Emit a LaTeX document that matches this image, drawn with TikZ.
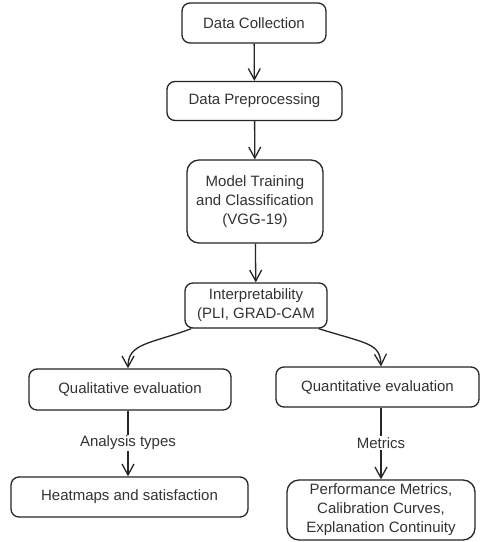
\documentclass[tikz,border=0pt]{standalone}
\usepackage{fontspec}
\setmainfont{Liberation Sans}
\usetikzlibrary{arrows.meta}
\begin{document}
\begin{tikzpicture}[x=1bp,y=-1bp,
  box/.style={draw=black!85, line width=1.3bp, rounded corners=8bp, align=center,
    inner sep=0pt, font=\fontsize{15bp}{19bp}\selectfont, text=black!80},
  lbl/.style={inner sep=1bp, font=\fontsize{15bp}{19bp}\selectfont, text=black!80},
  link/.style={draw=black!85, line width=1.3bp},
  flow/.style={link, -{Straight Barb[length=11bp,width=12bp,line width=1.3bp]}}]
\useasboundingbox[fill=white] (0,0) rectangle (481,542);

\node[box, minimum width=144bp, minimum height=40bp] (dc) at (254,23) {Data Collection};
\node[box, minimum width=175bp, minimum height=39bp] (dp) at (254.5,101) {Data Preprocessing};
\node[box, minimum width=136bp, minimum height=83bp, rounded corners=12bp] (mt) at (255,201.5)
  {Model Training\\and Classification\\(VGG-19)};
\node[box, minimum width=142bp, minimum height=45bp] (ip) at (256,305.5)
  {Interpretability\\(PLI, GRAD-CAM};
\node[box, minimum width=202bp, minimum height=41bp] (ql) at (130,389.5) {Qualitative evaluation};
\node[box, minimum width=203bp, minimum height=40bp] (qn) at (377.5,387) {Quantitative evaluation};
\node[lbl] (at) at (128,443) {Analysis types};
\node[lbl] (mx) at (381,443) {Metrics};
\node[box, minimum width=237bp, minimum height=40bp] (hm) at (129.5,497) {Heatmaps and satisfaction};
\node[box, minimum width=188bp, minimum height=60bp, rounded corners=12bp] (pm) at (381,510)
  {Performance Metrics,\\Calibration Curves,\\Explanation Continuity};

\draw[flow] (dc) -- (dp);
\draw[flow] (dp) -- (mt);
\draw[flow] (mt) -- (ip);
\draw[flow] ([xshift=7bp]ip.south west) .. controls (150,344) and (128,343) .. (ql.north -| at);
\draw[flow] ([xshift=-9bp]ip.south east) .. controls (368,344) and (380,343) .. (qn.north -| mx);
\draw[link] (ql.south -| at) -- (at.north);
\draw[flow] (at.south) -- (hm.north -| at);
\draw[link, line width=2.2bp] (qn.south -| mx) -- (mx.north);
\draw[flow, line width=2bp] (mx.south) -- (pm.north -| mx);
\end{tikzpicture}
\end{document}
